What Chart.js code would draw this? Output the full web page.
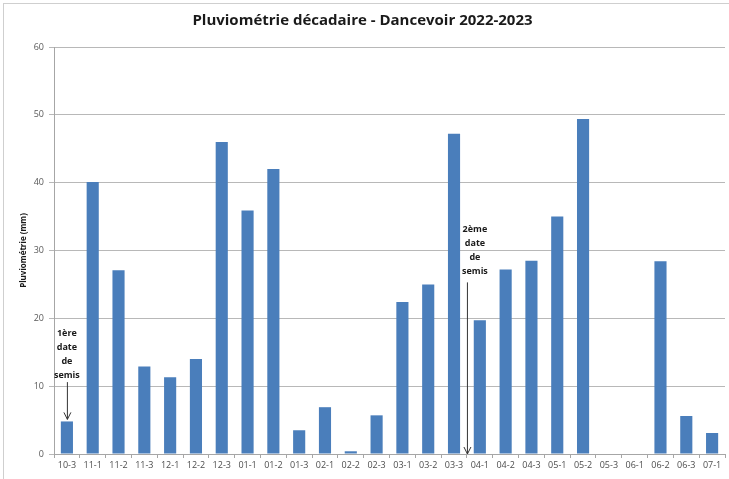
<!DOCTYPE html>
<html>
<head>
<meta charset="utf-8">
<script src="https://cdn.jsdelivr.net/npm/chart.js@4"></script>
<style>
  html, body { margin: 0; padding: 0; background: #fff; }
  #wrap { position: relative; width: 729px; height: 479px; }
</style>
</head>
<body>
<div id="wrap"><canvas id="chart-pluvio"></canvas></div>
<script>
// décades (mois-décade)
const decades = ['10-3','11-1','11-2','11-3','12-1','12-2','12-3','01-1','01-2','01-3','02-1','02-2','02-3',
  '03-1','03-2','03-3','04-1','04-2','04-3','05-1','05-2','05-3','06-1','06-2','06-3','07-1'];
// cumul de pluie par décade (mm)
const pluie = [4.8, 40.1, 27.1, 12.9, 11.3, 14, 46, 35.9, 42, 3.5, 6.9, 0.4, 5.7,
  22.4, 25, 47.2, 19.7, 27.2, 28.5, 35, 49.4, 0, 0, 28.4, 5.6, 3.1];
const yTicks = [0, 10, 20, 30, 40, 50, 60];

// notes "date de semis" : position en index de décade, haut/bas de la flèche en mm
const semis = [
  { lines: ['1ère', 'date', 'de', 'semis'], x: 0, textY: 17.8, arrowFrom: 10.6, arrowTo: 5.1 },
  { lines: ['2ème', 'date', 'de', 'semis'], x: 15.5, textY: 33.1, arrowFrom: 25.3, arrowTo: 0, textDx: 8 }
];

const frame = {
  id: 'frame',
  beforeDraw(chart) {
    const c = chart.ctx;
    c.save();
    c.strokeStyle = '#cfcfcf';
    c.lineWidth = 1;
    c.strokeRect(3.5, 3.5, chart.width + 20, chart.height + 20);
    c.restore();
  }
};

const notes = {
  id: 'notes',
  afterDatasetsDraw(chart) {
    const c = chart.ctx;
    const xs = chart.scales.x, ys = chart.scales.y;
    const step = xs.getPixelForValue(1) - xs.getPixelForValue(0);
    c.save();
    semis.forEach(n => {
      const base = xs.getPixelForValue(Math.floor(n.x)) + (n.x % 1) * step;
      const tx = base + (n.textDx || 0);
      c.fillStyle = '#1a1a1a';
      c.font = 'bold 9px "Open Sans", sans-serif';
      c.textAlign = 'center';
      c.textBaseline = 'middle';
      const y0 = ys.getPixelForValue(n.textY);
      n.lines.forEach((l, i) => c.fillText(l, tx, y0 + i * 14));
      const a = ys.getPixelForValue(n.arrowFrom), b = ys.getPixelForValue(n.arrowTo);
      c.strokeStyle = '#333';
      c.lineWidth = 1;
      c.beginPath();
      c.moveTo(base + 0.5, a);
      c.lineTo(base + 0.5, b);
      c.moveTo(base - 3, b - 7);
      c.lineTo(base + 0.5, b);
      c.lineTo(base + 4, b - 7);
      c.stroke();
    });
    c.restore();
  }
};

new Chart(document.getElementById('chart-pluvio'), {
  type: 'bar',
  data: {
    labels: decades,
    datasets: [{
      data: pluie,
      backgroundColor: '#4a7ebb',
      categoryPercentage: 1,
      barPercentage: 0.47
    }]
  },
  options: {
    responsive: true,
    maintainAspectRatio: false,
    animation: false,
    layout: { padding: { left: 0, right: 4, top: 0, bottom: 4 } },
    plugins: {
      legend: { display: false },
      tooltip: { enabled: false },
      title: {
        display: true,
        text: 'Pluviométrie décadaire - Dancevoir 2022-2023',
        color: '#1a1a1a',
        font: { family: '"Open Sans", sans-serif', size: 15, weight: 'bold' },
        padding: { top: 12, bottom: 17 }
      }
    },
    scales: {
      x: {
        grid: { drawOnChartArea: false, drawTicks: true, tickLength: 4, color: '#a6a6a6', offset: true },
        border: { color: '#a6a6a6' },
        ticks: { color: '#4d4d4d', font: { family: '"Open Sans", sans-serif', size: 9 }, maxRotation: 0, autoSkip: false, padding: 2 },
        afterFit(s) { s.height = 21; }
      },
      y: {
        min: 0,
        max: 60,
        afterBuildTicks(s) { s.ticks = yTicks.map(v => ({ value: v })); },
        grid: { color: '#b8b8b8', tickLength: 5 },
        border: { color: '#a6a6a6' },
        ticks: { color: '#595959', font: { family: '"Open Sans", sans-serif', size: 9 }, padding: 5 },
        title: {
          display: true,
          text: 'Pluviométrie (mm)',
          color: '#1a1a1a',
          font: { family: '"Open Sans", sans-serif', size: 8, weight: 'bold' },
          padding: { top: 19, bottom: 0 }
        },
        afterFit(s) { s.width = 54; }
      }
    }
  },
  plugins: [frame, notes]
});
</script>
</body>
</html>
